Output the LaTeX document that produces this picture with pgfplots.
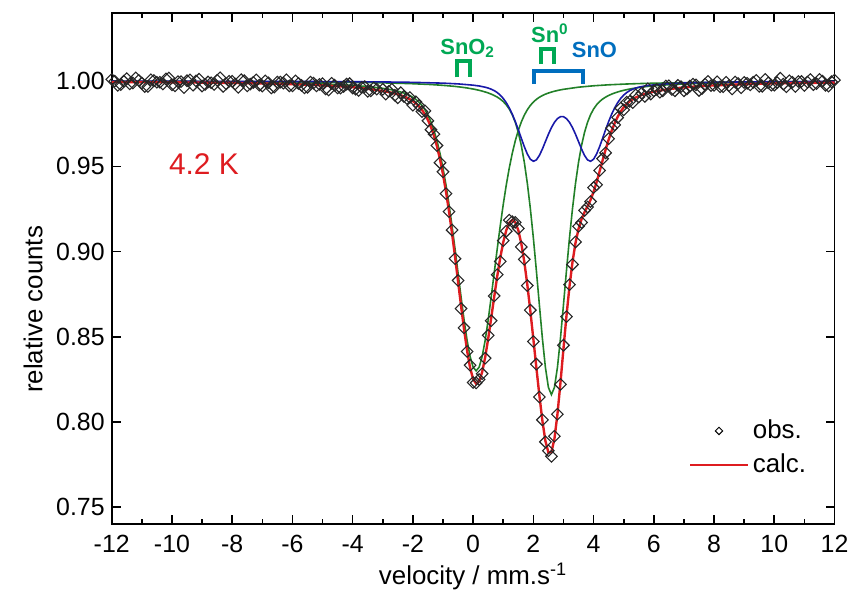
\documentclass[border=0pt]{standalone}
\usepackage{fontspec}
\setmainfont{Liberation Sans}
\usepackage{pgfplots}
\pgfplotsset{compat=1.18}
\definecolor{calcred}{RGB}{222,28,32}
\definecolor{fitgreen}{RGB}{34,128,40}
\definecolor{fitblue}{RGB}{24,24,168}
\definecolor{lblgreen}{RGB}{0,168,84}
\definecolor{lblblue}{RGB}{0,110,190}
\begin{document}
\begin{tikzpicture}
\begin{axis}[
    scale only axis,
    width=363pt, height=256.75pt,
    xmin=-12, xmax=12, ymin=0.74, ymax=1.04,
    xtick={-12,-10,...,12}, minor x tick num=1,
    ytick={0.75,0.80,0.85,0.90,0.95,1.00},
    yticklabel style={/pgf/number format/.cd, fixed, fixed zerofill, precision=2},
    /pgf/number format/assume math mode=true,
    tick label style={font=\fontsize{12.5}{14}\selectfont},
    xticklabel style={yshift=-2pt},
    label style={font=\fontsize{13}{15}\selectfont},
    xlabel style={yshift=1.5pt},
    major tick length=4.5pt, minor tick length=2.5pt,
    every tick/.style={black, line width=0.8pt},
    axis line style={line width=0.9pt},
    xlabel={velocity / mm.s\textsuperscript{-1}},
    ylabel={relative counts},
    ylabel style={at={(ticklabel cs:0.42)}},
    legend style={at={(rel axis cs:0.79,0.22)}, anchor=north west, draw=none, fill=none,
        font=\fontsize{13}{15}\selectfont, row sep=2pt},
    legend cell align=left,
]
% observed spectrum
\addplot[only marks, mark=square, mark size=2.05pt,
    mark options={rotate=45, black!85, line width=0.55pt}, forget plot] coordinates {
(-12.0,1.0010)(-11.9,1.0000)(-11.8,0.9975)(-11.7,0.9979)(-11.6,0.9999)(-11.5,1.0014)
(-11.4,0.9984)(-11.3,0.9989)(-11.2,1.0019)(-11.1,1.0004)(-11.0,0.9989)(-10.9,0.9968)
(-10.8,0.9968)(-10.7,1.0008)(-10.6,1.0003)(-10.5,0.9993)(-10.4,0.9993)(-10.3,0.9983)
(-10.2,1.0013)(-10.1,1.0018)(-10.0,0.9978)(-9.9,0.9972)(-9.8,0.9997)(-9.7,0.9997)
(-9.6,0.9962)(-9.5,1.0002)(-9.4,1.0007)(-9.3,0.9976)(-9.2,1.0001)(-9.1,1.0011)
(-9.0,0.9971)(-8.9,0.9980)(-8.8,0.9995)(-8.7,0.9990)(-8.6,0.9980)(-8.5,1.0005)
(-8.4,1.0020)(-8.3,0.9969)(-8.2,0.9984)(-8.1,0.9999)(-8.0,0.9999)(-7.9,0.9983)
(-7.8,0.9963)(-7.7,1.0008)(-7.6,1.0003)(-7.5,0.9972)(-7.4,0.9982)(-7.3,0.9992)
(-7.2,1.0007)(-7.1,0.9976)(-7.0,0.9971)(-6.9,1.0001)(-6.8,0.9990)(-6.7,0.9960)
(-6.6,0.9965)(-6.5,0.9994)(-6.4,0.9994)(-6.3,0.9988)(-6.2,1.0008)(-6.1,0.9972)
(-6.0,0.9972)(-5.9,1.0001)(-5.8,0.9986)(-5.7,0.9975)(-5.6,0.9960)(-5.5,0.9964)
(-5.4,0.9994)(-5.3,0.9988)(-5.2,0.9972)(-5.1,0.9981)(-5.0,0.9985)(-4.9,0.9954)
(-4.8,0.9948)(-4.7,0.9987)(-4.6,0.9976)(-4.5,0.9960)(-4.4,0.9959)(-4.3,0.9968)
(-4.2,0.9982)(-4.1,0.9985)(-4.0,0.9959)(-3.9,0.9952)(-3.8,0.9945)(-3.7,0.9963)
(-3.6,0.9967)(-3.5,0.9940)(-3.4,0.9943)(-3.3,0.9960)(-3.2,0.9953)
(-3.0,0.9952)(-2.9,0.9924)(-2.8,0.9940)(-2.7,0.9952)(-2.6,0.9917)(-2.5,0.9902)
(-2.4,0.9932)(-2.3,0.9910)(-2.2,0.9898)(-2.1,0.9904)(-2.0,0.9858)(-1.9,0.9879)
(-1.8,0.9857)(-1.7,0.9821)(-1.6,0.9825)(-1.5,0.9767)(-1.4,0.9715)(-1.3,0.9689)
(-1.2,0.9622)(-1.1,0.9521)(-1.0,0.9468)(-0.9,0.9340)(-0.8,0.9234)(-0.7,0.9126)
(-0.6,0.8958)(-0.5,0.8830)(-0.4,0.8665)(-0.3,0.8552)(-0.2,0.8413)(-0.1,0.8333)
(0.0,0.8231)(0.1,0.8229)(0.2,0.8249)(0.3,0.8283)(0.4,0.8374)(0.5,0.8508)
(0.6,0.8594)(0.7,0.8739)(0.8,0.8864)(0.9,0.8942)(1.0,0.9064)(1.1,0.9119)
(1.2,0.9184)(1.3,0.9175)(1.4,0.9171)(1.5,0.9135)(1.6,0.9027)(1.7,0.8954)
(1.8,0.8800)(1.9,0.8656)(2.0,0.8472)(2.1,0.8339)(2.2,0.8146)(2.3,0.8012)
(2.4,0.7883)(2.5,0.7831)(2.6,0.7798)(2.7,0.7916)(2.8,0.8045)(2.9,0.8220)
(3.0,0.8450)(3.1,0.8618)(3.2,0.8806)(3.3,0.8924)(3.4,0.9056)(3.5,0.9148)
(3.6,0.9170)(3.7,0.9241)(3.8,0.9261)(3.9,0.9293)(4.0,0.9375)(4.1,0.9392)
(4.2,0.9475)(4.3,0.9545)(4.4,0.9579)(4.5,0.9662)(4.6,0.9724)(4.7,0.9743)
(4.8,0.9786)(4.9,0.9841)(5.0,0.9831)(5.1,0.9876)(5.2,0.9881)(5.3,0.9874)
(5.4,0.9919)(5.5,0.9907)(5.6,0.9929)(5.7,0.9910)(5.8,0.9955)(5.9,0.9924)
(6.0,0.9943)
(6.1,0.9951)(6.2,0.9935)(6.3,0.9943)(6.4,0.9971)(6.5,0.9973)(6.6,0.9951)
(6.7,0.9943)(6.8,0.9975)(6.9,0.9967)(7.0,0.9943)(7.1,0.9954)(7.2,0.9971)
(7.3,0.9982)(7.4,0.9978)(7.5,0.9945)(7.6,0.9956)(7.7,0.9982)(7.8,0.9998)
(7.9,0.9974)(8.0,0.9975)(8.1,0.9996)(8.2,0.9967)(8.3,0.9967)(8.4,0.9993)
(8.5,0.9974)(8.6,0.9954)(8.7,0.9995)(8.8,0.9986)(8.9,0.9961)(9.0,0.9992)
(9.1,0.9987)(9.2,0.9978)(9.3,0.9993)(9.4,1.0004)(9.5,0.9969)(9.6,0.9970)
(9.7,1.0010)(9.8,0.9990)(9.9,0.9976)(10.0,0.9976)(10.1,0.9991)(10.2,1.0017)
(10.3,0.9982)(10.4,0.9967)(10.5,1.0002)(10.6,0.9993)(10.7,0.9968)(10.8,0.9998)
(10.9,0.9998)(11.0,0.9974)(11.1,0.9994)(11.2,1.0009)(11.3,0.9979)(11.4,0.9985)
(11.5,1.0010)(11.6,1.0000)(11.7,0.9975)(11.8,0.9971)(11.9,0.9996)(12.0,1.0006)
};
% SnO2 subspectrum
\addplot[fitgreen, line width=0.8pt, forget plot] coordinates {
(-12,0.9997)(-11,0.99965)(-10,0.99958)(-9,0.99948)(-8,0.99934)(-7,0.99915)
(-6,0.99885)(-5,0.99837)(-4,0.99751)(-3.5,0.9968)
(-3.0,0.99575)(-2.9,0.99548)(-2.8,0.99518)(-2.7,0.99485)(-2.6,0.99447)(-2.5,0.99405)
(-2.4,0.99357)(-2.3,0.993)(-2.2,0.99233)(-2.1,0.99152)(-2.0,0.99052)(-1.9,0.98928)
(-1.8,0.98771)(-1.7,0.98573)(-1.6,0.98321)(-1.5,0.98002)(-1.4,0.97602)(-1.3,0.97105)
(-1.2,0.96497)(-1.1,0.95763)(-1.0,0.94896)(-0.9,0.93893)(-0.8,0.92756)(-0.7,0.915)
(-0.6,0.90149)(-0.5,0.88741)(-0.4,0.8733)(-0.3,0.85983)(-0.2,0.84786)(-0.1,0.83832)
(0.0,0.83214)(0.1,0.83)(0.2,0.83214)(0.3,0.83832)(0.4,0.84786)(0.5,0.85983)
(0.6,0.8733)(0.7,0.88741)(0.8,0.90149)(0.9,0.915)(1.0,0.92756)(1.1,0.93893)
(1.2,0.94896)(1.3,0.95763)(1.4,0.96497)(1.5,0.97105)(1.6,0.97602)(1.7,0.98002)
(1.8,0.98321)(1.9,0.98573)(2.0,0.98771)(2.1,0.98928)(2.2,0.99052)(2.3,0.99152)
(2.4,0.99233)(2.5,0.993)(2.6,0.99357)(2.7,0.99405)(2.8,0.99447)(2.9,0.99485)
(3.0,0.99518)(3.5,0.99643)(4,0.99725)(4.5,0.99782)(5,0.99823)(5.5,0.99854)
(6,0.99877)(7,0.9991)(8,0.99931)(9,0.99946)(10,0.99956)(11,0.99964)(12,0.9997)
};
% Sn0 subspectrum
\addplot[fitgreen, line width=0.8pt, forget plot] coordinates {
(-12,0.99984)(-10,0.99979)(-8,0.99971)(-6,0.99955)(-4,0.99925)(-3,0.99896)
(-2.4,0.99869)(-2,0.99846)(-1.4,0.99798)(-1.0,0.99751)(-0.6,0.99688)(-0.4,0.99646)
(-0.2,0.99596)(0.0,0.99535)(0.1,0.99499)(0.2,0.99459)(0.3,0.99414)(0.4,0.99362)
(0.5,0.99304)(0.6,0.99236)(0.7,0.99157)(0.8,0.99062)(0.9,0.98946)(1.0,0.98799)
(1.1,0.9861)(1.2,0.98361)(1.3,0.98029)(1.4,0.97585)(1.5,0.96995)(1.6,0.96223)
(1.7,0.95235)(1.8,0.94005)(1.9,0.92522)(2.0,0.908)(2.1,0.88886)(2.2,0.8687)
(2.3,0.84904)(2.4,0.83202)(2.5,0.82024)(2.6,0.816)(2.7,0.82024)(2.8,0.83202)
(2.9,0.84904)(3.0,0.8687)(3.1,0.88886)(3.2,0.908)(3.3,0.92522)(3.4,0.94005)
(3.5,0.95235)(3.6,0.96223)(3.7,0.96995)(3.8,0.97585)(3.9,0.98029)(4.0,0.98361)
(4.1,0.9861)(4.2,0.98799)(4.3,0.98946)(4.4,0.99062)(4.5,0.99157)(4.6,0.99236)
(4.7,0.99304)(4.8,0.99362)(4.9,0.99414)(5.0,0.99459)(5.1,0.99499)(5.2,0.99535)
(5.4,0.99596)(5.6,0.99646)(5.8,0.99688)(6.0,0.99722)(6.5,0.99787)(7,0.99832)
(8,0.99888)(9,0.9992)(10,0.9994)(11,0.99953)(12,0.99963)
};
% SnO doublet
\addplot[fitblue, line width=0.8pt, forget plot] coordinates {
(-12,0.99993)(-10,0.9999)(-8,0.99986)(-6,0.99979)(-4,0.99965)(-3,0.99951)
(-2,0.99927)(-1,0.9988)(-0.5,0.99836)(0,0.99761)(0.2,0.99713)(0.4,0.99642)
(0.5,0.99592)(0.6,0.99527)(0.7,0.99442)(0.8,0.99328)(0.9,0.99178)(1.0,0.98984)
(1.1,0.98736)(1.2,0.98428)(1.3,0.98057)(1.4,0.97627)(1.5,0.9715)(1.6,0.96646)
(1.7,0.96152)(1.8,0.95722)(1.9,0.95417)(2.0,0.95294)(2.1,0.95375)(2.2,0.95634)
(2.3,0.96014)(2.4,0.96449)(2.5,0.96881)(2.6,0.97268)(2.7,0.9758)(2.8,0.97799)
(2.9,0.97911)(3.0,0.97911)(3.1,0.97799)(3.2,0.9758)(3.3,0.97268)(3.4,0.96881)
(3.5,0.96449)(3.6,0.96014)(3.7,0.95634)(3.8,0.95375)(3.9,0.95294)(4.0,0.95417)
(4.1,0.95722)(4.2,0.96152)(4.3,0.96646)(4.4,0.9715)(4.5,0.97627)(4.6,0.98057)
(4.7,0.98428)(4.8,0.98736)(4.9,0.98984)(5.0,0.99178)(5.1,0.99328)(5.2,0.99442)
(5.3,0.99527)(5.4,0.99592)(5.5,0.99642)(5.7,0.99713)(5.9,0.99761)(6.5,0.99847)
(7,0.99887)(8,0.99931)(9,0.99953)(10,0.99966)(11,0.99974)(12,0.9998)
};
% calculated total
\addplot[calcred, line width=1.2pt, forget plot] coordinates {
(-12,0.99948)(-11,0.99939)(-10,0.99927)(-9,0.99912)(-8,0.99891)(-7,0.99862)
(-6,0.9982)(-5,0.99753)(-4,0.9964)(-3.5,0.9955)
(-3.0,0.99422)(-2.9,0.9939)(-2.8,0.99354)(-2.7,0.99315)(-2.6,0.99269)(-2.5,0.9922)
(-2.4,0.99165)(-2.3,0.991)(-2.2,0.99026)(-2.1,0.98935)(-2.0,0.98825)(-1.9,0.98691)
(-1.8,0.98523)(-1.7,0.98313)(-1.6,0.9805)(-1.5,0.97718)(-1.4,0.97304)(-1.3,0.9679)
(-1.2,0.96166)(-1.1,0.95414)(-1.0,0.94527)(-0.9,0.93503)(-0.8,0.92343)(-0.7,0.91062)
(-0.6,0.89684)(-0.5,0.88245)(-0.4,0.86801)(-0.3,0.85417)(-0.2,0.84179)(-0.1,0.83179)
(0.0,0.8251)(0.1,0.82238)(0.2,0.82386)(0.3,0.82927)(0.4,0.8379)(0.5,0.84879)
(0.6,0.86093)(0.7,0.8734)(0.8,0.88539)(0.9,0.89624)(1.0,0.90539)(1.1,0.91239)
(1.2,0.91685)(1.3,0.91849)(1.4,0.91709)(1.5,0.9125)(1.6,0.90471)(1.7,0.89389)
(1.8,0.88048)(1.9,0.86512)(2.0,0.84865)(2.1,0.83189)(2.2,0.81556)(2.3,0.8007)
(2.4,0.78884)(2.5,0.78205)(2.6,0.78225)(2.7,0.79009)(2.8,0.80448)(2.9,0.823)
(3.0,0.84299)(3.1,0.86233)(3.2,0.87955)(3.3,0.8939)(3.4,0.90509)(3.5,0.91327)
(3.6,0.91899)(3.7,0.92309)(3.8,0.92656)(3.9,0.93034)(4.0,0.93503)(4.1,0.9407)
(4.2,0.94702)(4.3,0.95354)(4.4,0.95985)(4.5,0.96566)(4.6,0.97085)(4.7,0.97532)
(4.8,0.97907)(4.9,0.98214)(5.0,0.9846)(5.1,0.98657)(5.2,0.98814)(5.3,0.98937)
(5.4,0.99037)(5.5,0.99118)(5.6,0.99186)(5.7,0.99245)(5.8,0.99296)(5.9,0.9934)
(6.0,0.99379)(6.5,0.9953)(7,0.99629)(7.5,0.99698)(8,0.99749)(9,0.99818)
(10,0.99862)(11,0.99891)(12,0.99912)
};
\addlegendimage{legend image code/.code={
    \draw[only marks, mark=square, mark size=1.3pt,
      mark options={rotate=45, black, line width=0.5pt}] plot coordinates {(0.51cm,0cm)};}}
\addlegendentry{obs.}
\addlegendimage{legend image code/.code={
    \draw[calcred, line width=1pt] (0cm,0cm) -- (1.02cm,0cm);}}
\addlegendentry{calc.}
% component markers
\draw[lblgreen, line width=2pt] (axis cs:-0.55,1.0022) -- (axis cs:-0.55,1.0119)
    -- (axis cs:-0.11,1.0119) -- (axis cs:-0.11,1.0022);
\draw[lblgreen, line width=2pt] (axis cs:2.26,1.0099) -- (axis cs:2.26,1.0187)
    -- (axis cs:2.70,1.0187) -- (axis cs:2.70,1.0099);
\draw[lblblue, line width=1.8pt] (axis cs:2.02,0.9982) -- (axis cs:2.02,1.006)
    -- (axis cs:3.64,1.006) -- (axis cs:3.64,0.9982);
\node[anchor=base, text=lblgreen, font=\bfseries\fontsize{11}{13}\selectfont]
    at (axis cs:-0.18,1.0158) {SnO\textsubscript{2}};
\node[anchor=base, text=lblgreen, font=\bfseries\fontsize{11}{13}\selectfont]
    at (axis cs:2.55,1.0228) {Sn\textsuperscript{0}};
\node[anchor=base, text=lblblue, font=\bfseries\fontsize{11}{13}\selectfont]
    at (axis cs:4.03,1.0138) {SnO};
\node[anchor=base, text=calcred, font=\fontsize{15}{17}\selectfont]
    at (axis cs:-8.94,0.9451) {4.2 K};
\end{axis}
\path ([xshift=-8.5pt]current bounding box.west) ([yshift=6.5pt]current axis.north);
\end{tikzpicture}
\end{document}
